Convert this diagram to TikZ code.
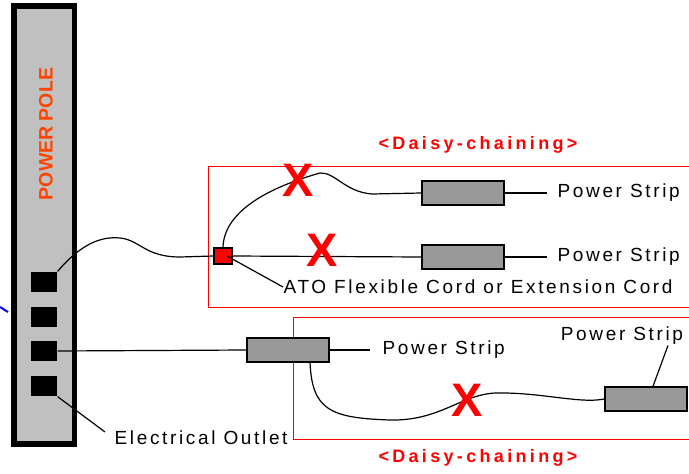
\documentclass[tikz,border=0pt]{standalone}
\usepackage{fontspec}
\setmainfont{Liberation Sans}
\newfontfamily\spacedfont[LetterSpace=14]{Liberation Sans}
\newfontfamily\chainfont[LetterSpace=18.5]{Liberation Sans}
\usepackage{tikz}
\usetikzlibrary{positioning}

\definecolor{polegray}{HTML}{C0C0C0}
\definecolor{stripgray}{HTML}{999999}
\definecolor{poleorange}{HTML}{FF4400}

\tikzset{
    outlet/.style={fill=black, minimum width=26pt, minimum height=20pt, inner sep=0},
    strip/.style={draw, line width=1.5pt, fill=stripgray, minimum width=82pt, minimum height=24pt, inner sep=0},
    cross/.style={text=red, inner sep=0, font=\fontsize{47}{47}\selectfont\bfseries},
    lbl/.style={inner sep=0, font=\spacedfont\fontsize{19}{20}\selectfont},
    chainlbl/.style={inner sep=0, text=red, font=\chainfont\fontsize{18}{20}\selectfont\bfseries},
    zone/.style={red, line width=1pt},
}

\begin{document}
\begin{tikzpicture}[x=1pt, y=-1pt, line width=1.2pt]
    \useasboundingbox (0,0) rectangle (689,474);

    % pole and outlets
    \draw[blue, line width=2pt] (0,307) -- (8,312);
    \draw[line width=5.5pt, fill=polegray] (13.8,5.8) rectangle (74.5,444);
    \node[rotate=90, inner sep=0, text=poleorange, font=\fontsize{19.5}{20}\selectfont\bfseries] (poletitle) at (46,134) {POWER POLE};
    \foreach \i/\y in {1/282,2/317,3/351,4/386}
        \node[outlet] (o\i) at (44,\y) {};

    % upper daisy chain
    \draw[zone] (689,166) -- (208,166) -- (208,307) -- (689,307);
    \node[chainlbl] (chain1) at (478,145) {<Daisy-chaining>};
    \node[draw, fill=red, line width=1.5pt, minimum width=18pt, minimum height=16pt, inner sep=0] (ato) at (223,256) {};
    \node[strip] (s1) at (463,193) {};
    \node[strip] (s2) at (463,257) {};
    \draw (o1.north east) .. controls (80,245) and (100,236) .. (120,238)
        .. controls (140,240) and (145,257) .. (180,257) -- (ato.west);
    \draw (ato.north) .. controls (224,215) and (260,190) .. (320,173)
        .. controls (335,172) and (345,192) .. (372,194) -- (s1.west);
    \draw (ato.east) -- (s2.west);
    \coordinate (s1end) at (547,193);
    \coordinate (s2end) at (547,257);
    \draw (s1.east) -- (s1end);
    \draw (s2.east) -- (s2end);
    \node[lbl, right=10pt of s1end] (s1lbl) {Power Strip};
    \node[lbl, right=10pt of s2end] (s2lbl) {Power Strip};
    \node[lbl, anchor=west] (atolbl) at (283,287) {ATO Flexible Cord or Extension Cord};
    \draw ([xshift=4pt]ato.center) -- (atolbl.west);
    \node[cross] (x1) at (298,180) {X};
    \node[cross] (x2) at (322,250) {X};

    % lower daisy chain
    \draw[zone] (689,317) -- (293,317) -- (293,439) -- (689,439);
    \node[chainlbl] (chain2) at (478,458) {<Daisy-chaining>};
    \node[strip] (s3) at (288,350) {};
    \node[strip] (s4) at (646,399) {};
    \draw (o3.east) -- (s3.west);
    \coordinate (s3end) at (370,350);
    \draw (s3.east) -- (s3end);
    \node[lbl, right=12pt of s3end] (s3lbl) {Power Strip};
    \draw (310,362) .. controls (312,410) and (330,418) .. (390,420)
        .. controls (440,421) and (460,395) .. (495,393)
        .. controls (540,392) and (580,404) .. (s4.west);
    \node[lbl] (s4lbl) at (622,336) {Power Strip};
    \draw ([xshift=7pt]s4.north) -- ([xshift=46pt]s4lbl.south);
    \node[cross] (x3) at (467,400) {X};

    % outlet label
    \node[lbl, anchor=west] (outletlbl) at (114,438) {Electrical Outlet};
    \draw (o4.south east) -- ([xshift=-9pt,yshift=6pt]outletlbl.west);
\end{tikzpicture}
\end{document}
